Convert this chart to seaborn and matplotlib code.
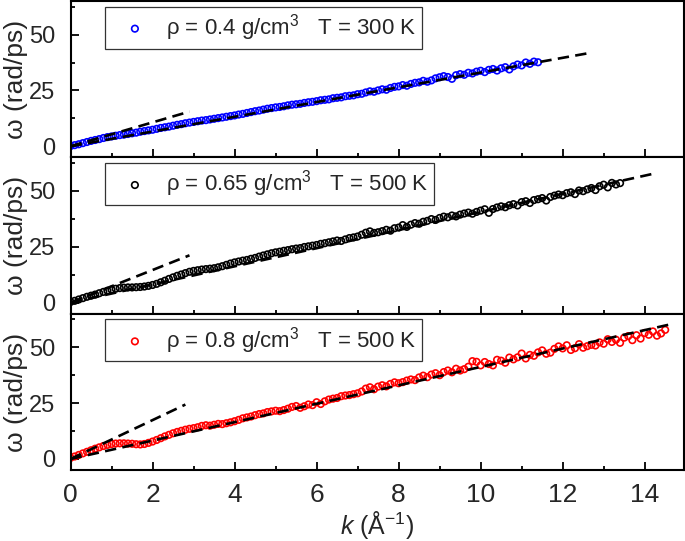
import pandas as pd
import matplotlib.pyplot as plt
from matplotlib.ticker import MultipleLocator
import seaborn as sns

# style first, fonts after (set_style resets font.family)
sns.set_style("ticks")
plt.rcParams["font.family"] = ["Liberation Sans", "DejaVu Sans"]
plt.rcParams["mathtext.fontset"] = "custom"
plt.rcParams["mathtext.rm"] = "Liberation Sans"
plt.rcParams["mathtext.it"] = "Liberation Sans:italic"

# k grid (1/Angstrom)
k_grid = [
    0.0, 0.1, 0.2, 0.3, 0.4, 0.5, 0.6, 0.7, 0.8, 0.9,
    1.0, 1.1, 1.2, 1.3, 1.4, 1.5, 1.6, 1.7, 1.8, 1.9,
    2.0, 2.1, 2.2, 2.3, 2.4, 2.5, 2.6, 2.7, 2.8, 2.9,
    3.0, 3.1, 3.2, 3.3, 3.4, 3.5, 3.6, 3.7, 3.8, 3.9,
    4.0, 4.1, 4.2, 4.3, 4.4, 4.5, 4.6, 4.7, 4.8, 4.9,
    5.0, 5.1, 5.2, 5.3, 5.4, 5.5, 5.6, 5.7, 5.8, 5.9,
    6.0, 6.1, 6.2, 6.3, 6.4, 6.5, 6.6, 6.7, 6.8, 6.9,
    7.0, 7.1, 7.2, 7.3, 7.4, 7.5, 7.6, 7.7, 7.8, 7.9,
    8.0, 8.1, 8.2, 8.3, 8.4, 8.5, 8.6, 8.7, 8.8, 8.9,
    9.0, 9.1, 9.2, 9.3, 9.4, 9.5, 9.6, 9.7, 9.8, 9.9,
    10.0, 10.1, 10.2, 10.3, 10.4, 10.5, 10.6, 10.7, 10.8, 10.9,
    11.0, 11.1, 11.2, 11.3, 11.4, 11.5, 11.6, 11.7, 11.8, 11.9,
    12.0, 12.1, 12.2, 12.3, 12.4, 12.5, 12.6, 12.7, 12.8, 12.9,
    13.0, 13.1, 13.2, 13.3, 13.4, 13.5, 13.6, 13.7, 13.8, 13.9,
    14.0, 14.1, 14.2, 14.3, 14.4, 14.5,
]

# omega (rad/ps), rho = 0.4 g/cm3, T = 300 K
omega_04 = [
    0.1, 0.5, 0.9, 1.4, 1.9, 2.4, 2.8, 3.2, 3.7, 4.1,
    4.4, 4.7, 5.0, 5.2, 5.5, 5.8, 6.1, 6.5, 6.8, 7.1,
    7.4, 7.8, 8.2, 8.5, 8.8, 9.2, 9.6, 9.9, 10.3, 10.6,
    10.9, 11.2, 11.5, 11.7, 12.0, 12.3, 12.6, 12.9, 13.2, 13.5,
    13.8, 14.2, 14.5, 14.9, 15.3, 15.7, 16.0, 16.4, 16.8, 17.1,
    17.4, 17.6, 17.9, 18.3, 18.6, 18.8, 19.0, 19.4, 19.7, 19.9,
    20.2, 20.6, 20.8, 21.0, 21.5, 21.7, 21.9, 22.4, 22.6, 22.8,
    23.3, 23.5, 24.1, 24.6, 24.4, 25.0, 25.5, 25.3, 26.1, 26.6,
    26.8, 27.4, 27.1, 27.9, 28.4, 28.6, 29.3, 28.9, 29.5, 30.4,
    30.9, 31.4, 31.0, 30.2, 31.8, 32.3, 32.0, 32.9, 32.6, 33.4,
    33.8, 33.2, 34.2, 34.6, 33.9, 34.9, 35.4, 34.4, 35.8, 36.6,
    36.2, 37.5, 36.9, 37.9, 37.6,
]

# omega (rad/ps), rho = 0.65 g/cm3, T = 500 K
omega_065 = [
    0.3, 0.8, 1.4, 2.0, 2.6, 3.1, 3.6, 4.2, 4.8, 5.3,
    5.8, 6.2, 6.5, 6.7, 6.8, 6.8, 6.9, 7.0, 7.2, 7.5,
    7.9, 8.4, 9.1, 9.8, 10.6, 11.3, 12.0, 12.6, 13.2, 13.8,
    14.2, 14.5, 14.8, 15.0, 15.2, 15.4, 15.8, 16.3, 16.9, 17.5,
    18.0, 18.4, 18.8, 19.1, 19.6, 20.0, 20.6, 21.1, 21.6, 22.1,
    22.5, 22.8, 23.2, 23.5, 23.9, 24.2, 24.4, 24.9, 25.2, 25.5,
    25.8, 26.3, 26.6, 27.0, 27.4, 27.8, 27.6, 28.3, 28.9, 29.2,
    29.6, 30.4, 31.3, 31.9, 31.2, 31.5, 32.0, 32.6, 32.2, 33.3,
    33.6, 34.7, 33.9, 34.9, 35.6, 35.3, 36.2, 36.6, 37.4, 37.0,
    37.9, 38.5, 38.2, 39.0, 38.6, 39.4, 39.9, 40.3, 39.8, 40.6,
    41.2, 41.8, 40.2, 41.9, 42.6, 43.1, 42.7, 43.6, 44.1, 43.5,
    45.0, 45.4, 44.6, 45.9, 46.3, 46.8, 45.7, 47.3, 47.9, 48.4,
    48.1, 49.0, 49.4, 48.6, 50.2, 49.9, 50.7, 51.3, 50.4, 52.1,
    52.8, 51.6, 53.6, 52.9, 53.5,
]

# omega (rad/ps), rho = 0.8 g/cm3, T = 500 K
omega_08 = [
    0.5, 1.1, 1.8, 2.5, 3.2, 3.9, 4.6, 5.2, 5.8, 6.3,
    6.7, 6.9, 7.0, 7.0, 6.9, 6.8, 6.6, 6.5, 6.7, 7.2,
    7.8, 8.5, 9.3, 10.1, 10.8, 11.5, 12.1, 12.6, 13.1, 13.5,
    13.8, 14.2, 14.8, 15.1, 14.9, 15.3, 15.7, 15.6, 16.0, 16.4,
    16.9, 17.5, 18.2, 18.6, 19.0, 19.6, 20.1, 20.4, 21.0, 21.3,
    21.6, 21.4, 21.9, 22.5, 23.3, 23.7, 22.9, 23.6, 24.4, 24.1,
    25.4, 24.6, 25.8, 26.6, 27.0, 27.3, 28.1, 28.4, 28.6, 29.0,
    29.4, 30.2, 31.5, 32.1, 31.2, 32.4, 33.0, 32.5, 33.6, 34.3,
    33.9, 34.4, 35.1, 35.6, 35.3, 36.5, 37.3, 36.6, 37.8, 38.4,
    37.5, 38.9, 39.6, 38.8, 40.4, 39.6, 40.2, 41.3, 43.8, 43.5,
    41.9, 43.4, 42.5, 41.9, 44.4, 44.0, 43.1, 45.4, 44.6, 45.5,
    47.2, 45.0, 46.6, 46.2, 47.7, 48.6, 47.1, 47.6, 49.3, 50.4,
    49.5, 50.9, 48.8, 49.6, 51.4, 49.8, 50.5, 51.1, 50.8, 52.2,
    51.6, 53.6, 52.4, 53.4, 52.0, 54.3, 55.0, 53.2, 55.4, 53.9,
    56.4, 55.6, 57.1, 55.2, 56.2, 57.8,
]

series = [omega_04, omega_065, omega_08]
labels = [
    r"ρ = 0.4 g/cm$^3$   T = 300 K",
    r"ρ = 0.65 g/cm$^3$   T = 500 K",
    r"ρ = 0.8 g/cm$^3$   T = 500 K",
]
colors = ["#0000ff", "#000000", "#ff0000"]

# linear dispersion guides: omega = slope * k, drawn from k = 0 to kmax
fit_slope = [3.3, 4.06, 4.12]
fit_kmax = [12.6, 14.2, 14.7]
lowk_slope = [5.35, 7.3, 8.7]
lowk_kmax = [2.9, 2.9, 2.8]

fig, axes = plt.subplots(3, 1, sharex=True, figsize=(6.85, 5.41), dpi=100)
fig.subplots_adjust(left=0.103, right=0.998, top=0.998, bottom=0.131, hspace=0)

for i, ax in enumerate(axes):
    omega = series[i]
    df = pd.DataFrame({"k": k_grid[:len(omega)], "omega": omega})
    sns.scatterplot(data=df, x="k", y="omega", ax=ax, marker="o", s=22,
                    facecolors="none", edgecolor=colors[i], linewidth=1.2,
                    label=labels[i], zorder=2)

    for slope, kmax in ((fit_slope[i], fit_kmax[i]), (lowk_slope[i], lowk_kmax[i])):
        guide = pd.DataFrame({"k": [0.0, kmax], "omega": [0.0, slope * kmax]})
        sns.lineplot(data=guide, x="k", y="omega", ax=ax, color="black",
                     lw=1.9, linestyle=(0, (4.3, 2.4)), zorder=3)

    ax.set_xlim(0, 14.95)
    ax.set_ylim(-5, 65)
    ax.xaxis.set_major_locator(MultipleLocator(2))
    ax.xaxis.set_minor_locator(MultipleLocator(1))
    ax.set_yticks([0, 25, 50])
    ax.yaxis.set_minor_locator(MultipleLocator(12.5))
    ax.tick_params(which="both", direction="in", width=1.3, color="black")
    ax.tick_params(which="major", length=6)
    ax.tick_params(which="minor", length=3)
    ax.tick_params(axis="y", labelsize=17, pad=11)
    ax.tick_params(axis="x", labelsize=19, pad=9)
    for sp in ax.spines.values():
        sp.set_linewidth(1.5)
        sp.set_color("black")

    ax.set_ylabel("ω (rad/ps)", fontsize=19, labelpad=1)
    ax.set_xlabel("")

    leg = ax.legend(loc="upper left", bbox_to_anchor=(0.056, 0.965),
                    fontsize=16, frameon=True, fancybox=False, framealpha=1,
                    edgecolor="#333333", handlelength=2.2, handletextpad=0.3,
                    borderpad=0.25, borderaxespad=0, scatterpoints=1)
    leg.get_frame().set_linewidth(0.9)

axes[-1].set_xlabel(r"$k$ (Å$^{-1}$)", fontsize=18, labelpad=2)

fig.savefig("out.png", dpi=100)
